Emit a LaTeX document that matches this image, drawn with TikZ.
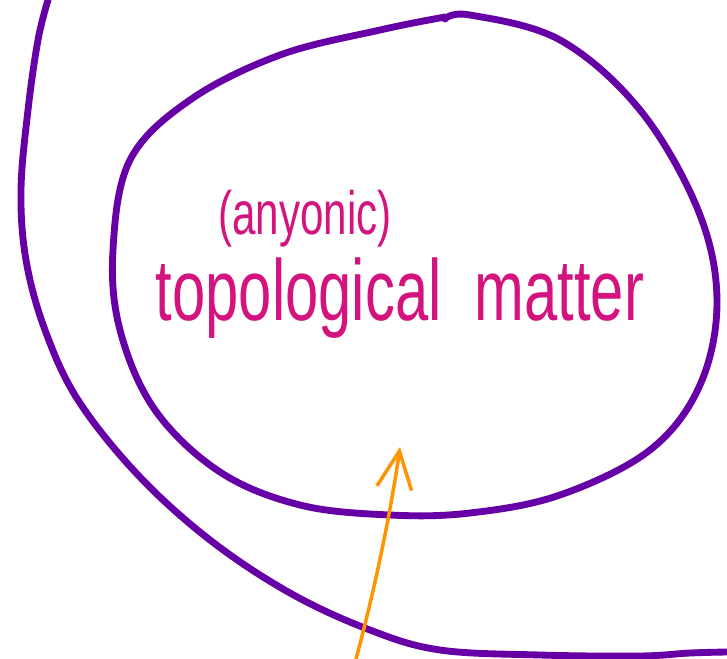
\documentclass[tikz,border=0pt]{standalone}
\usepackage{fontspec}
\setmainfont{Liberation Sans}
\usetikzlibrary{arrows.meta}
\definecolor{ink}{HTML}{6600A6}
\definecolor{pen}{HTML}{D4147E}
\definecolor{amber}{HTML}{FF9300}

\begin{document}
\begin{tikzpicture}[x=0.02cm,y=-0.02cm,>={Straight Barb[length=0.75cm,width=0.7cm]},
    ring/.style={draw=ink,line width=3.9pt,line cap=round,line join=round},
    scrawl/.style={text=pen,inner sep=0pt,anchor=base,yscale=1.45},
    pointer/.style={draw=amber,line width=2pt,line cap=round}]
    \useasboundingbox (0,0) rectangle (727,659);
    % outer boundary
    \draw[ring] plot[smooth,tension=0.6] coordinates {(48,0) (38,40) (28,110) (21,190) (26,260)
      (45,330) (78,400) (138,475) (210,540) (290,593) (370,630) (440,650) (540,655)
      (640,656) (690,653) (727,652)};
    % inner region
    \draw[ring] plot[smooth,tension=0.6] coordinates {(445,19) (470,15) (560,40) (640,110)
      (698,210) (717,300) (700,385) (650,450) (560,495) (470,513) (390,515) (300,505)
      (220,472) (155,410) (120,330) (113,250) (130,160) (190,100) (280,55) (380,30) (445,17)};
    \node[scrawl] (anyon) at (305,234) {\fontsize{24}{28}\selectfont (anyonic)};
    \node[scrawl] (topo) at (400,320) {\fontsize{34}{40}\selectfont topological\ \ matter};
    \coordinate (foot) at (356,659);
    \coordinate (tip) at (400,447);
    \draw[pointer,->] (foot) .. controls (380,570) and (394,490) .. (tip);
  \end{tikzpicture}
\end{document}
